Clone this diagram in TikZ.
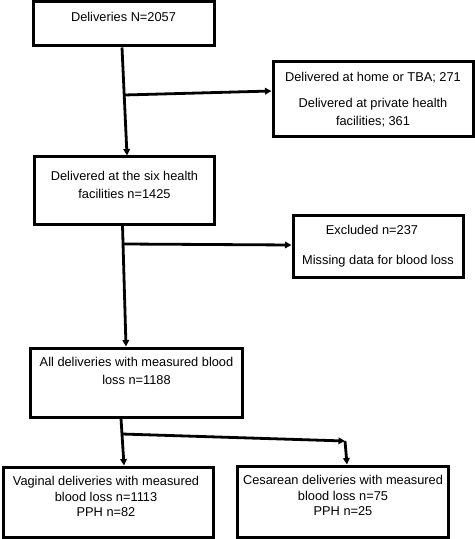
\documentclass[tikz,border=0pt]{standalone}
\usepackage{fontspec}
\setmainfont{Liberation Sans}
\usetikzlibrary{arrows.meta}
\tikzset{
  box/.style={draw=black, line width=3bp, inner sep=0pt, fill=white},
  txt/.style={anchor=base, inner sep=0pt, font=\fontsize{12.8bp}{18bp}\selectfont},
  conn/.style={line width=2.8bp, draw=black},
  arr/.style={conn, -{Triangle[length=6.5bp,width=6.5bp]}},
}
\newcommand{\boxat}[5]{% name, x1, y1, x2, y2
  \node[box, minimum width={(#4-#2)*1bp}, minimum height={(#5-#3)*1bp}] (#1) at ({(#2+#4)/2},{(#3+#5)/2}) {};}
\begin{document}
\begin{tikzpicture}[x=1bp,y=-1bp]
\useasboundingbox (0,0) rectangle (475,539);
% boxes
\boxat{b1}{33}{1.5}{214}{46}
\boxat{r1}{273}{62}{473}{137}
\boxat{b2}{34}{157}{214}{224}
\boxat{r2}{293}{215}{463}{277}
\boxat{b3}{30}{348}{242}{417}
\boxat{b4}{3}{467}{213}{537}
\boxat{b5}{237}{466}{448}{537}
% texts
\node[txt] (t1) at (123.5,21.6) {Deliveries N=2057};
\node[txt] (t2a) at (373,81.6) {Delivered at home or TBA; 271};
\node[txt] (t2b) at (373,107.6) {Delivered at private health};
\node[txt] (t2c) at (373,125.6) {facilities; 361};
\node[txt] (t3a) at (124.5,180.6) {Delivered at the six health};
\node[txt] (t3b) at (124.5,198.6) {facilities n=1425};
\node[txt] (t4a) at (372,234.6) {Excluded n=237};
\node[txt] (t4b) at (378,264.6) {Missing data for blood loss};
\node[txt] (t5a) at (136.5,366.6) {All deliveries with measured blood};
\node[txt] (t5b) at (136.5,384.6) {loss n=1188};
\node[txt] (t6a) at (106,485.6) {Vaginal deliveries with measured};
\node[txt] (t6b) at (106,501.6) {blood loss n=1113};
\node[txt] (t6c) at (106,516.6) {PPH n=82};
\node[txt] (t7a) at (343,484.6) {Cesarean deliveries with measured};
\node[txt] (t7b) at (343,500.6) {blood loss n=75};
\node[txt] (t7c) at (343,515.6) {PPH n=25};
% junctions
\coordinate (j1) at (124.5,95);
\coordinate (j2) at (123.5,244);
\coordinate (j3) at (122,434);
\coordinate (c3) at (345,441);
% connectors
\draw[arr] ([xshift=-1.5bp]b1.south) -- ([xshift=3bp]b2.north);
\draw[arr] (j1) -- (r1.west |- 0,91);
\draw[arr] ([xshift=-1.5bp]b2.south) -- ([xshift=-10bp]b3.north);
\draw[arr] (j2) -- (r2.west |- 0,245);
\draw[arr] ([xshift=-15bp]b3.south) -- ([xshift=16bp]b4.north);
\draw[arr] (j3) -- (c3);
\draw[arr] (c3) -- ([xshift=4.5bp]b5.north);
\end{tikzpicture}
\end{document}
